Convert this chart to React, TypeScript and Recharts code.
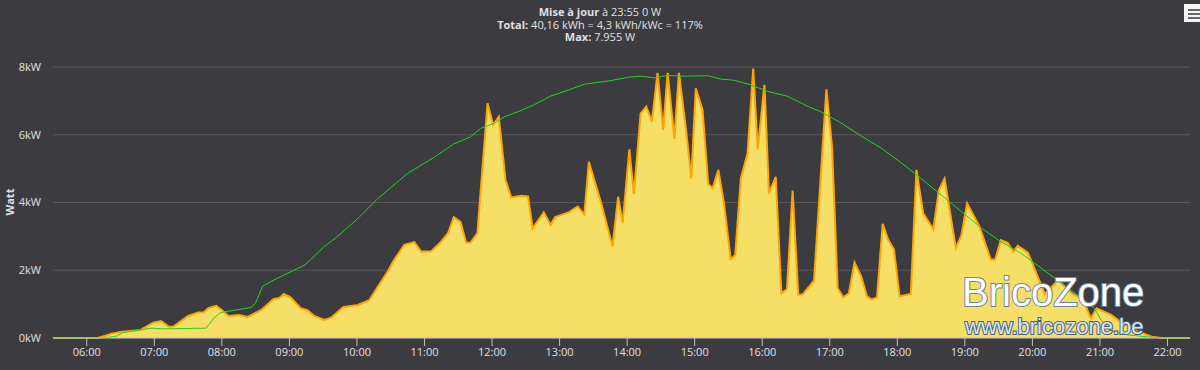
import { ComposedChart, Area, Line, XAxis, YAxis, CartesianGrid } from 'recharts'

// measured production, [time, watt]
const production: [string, number][] = [
  ['05:30', 0], ['06:10', 0], ['06:16', 60], ['06:22', 130], ['06:30', 180], ['06:48', 240], ['06:59', 450],
  ['07:06', 500], ['07:13', 330], ['07:17', 340], ['07:30', 650], ['07:39', 750], ['07:44', 760],
  ['07:48', 880], ['07:55', 950], ['08:01', 800], ['08:06', 650], ['08:15', 680], ['08:23', 620],
  ['08:35', 830], ['08:46', 1150], ['08:51', 1180], ['08:55', 1300], ['09:01', 1200], ['09:10', 880],
  ['09:16', 820], ['09:22', 650], ['09:31', 530], ['09:37', 600], ['09:48', 915], ['10:01', 975],
  ['10:11', 1120], ['10:28', 2000], ['10:33', 2300], ['10:42', 2750], ['10:51', 2830], ['10:57', 2550],
  ['11:06', 2560], ['11:15', 2850], ['11:21', 3100], ['11:26', 3570], ['11:32', 3430], ['11:37', 2810],
  ['11:41', 2820], ['11:47', 3100], ['11:56', 6930], ['12:01', 6290], ['12:06', 6530], ['12:12', 4660],
  ['12:17', 4150], ['12:26', 4200], ['12:32', 4180], ['12:36', 3240], ['12:46', 3710], ['12:52', 3340],
  ['12:56', 3570], ['13:08', 3710], ['13:16', 3880], ['13:22', 3650], ['13:26', 5200], ['13:37', 3980],
  ['13:47', 2700], ['13:52', 4170], ['13:56', 3390], ['14:02', 5570], ['14:06', 4250], ['14:12', 6630],
  ['14:17', 6830], ['14:22', 6390], ['14:27', 7830], ['14:32', 6140], ['14:36', 7830], ['14:42', 5880],
  ['14:46', 7830], ['14:52', 6240], ['14:57', 4710], ['15:01', 7370], ['15:07', 6730], ['15:12', 4550],
  ['15:16', 4420], ['15:21', 4960], ['15:26', 3980], ['15:32', 2320], ['15:36', 2450], ['15:41', 4710],
  ['15:47', 5450], ['15:52', 7955], ['15:56', 5570], ['16:02', 7470], ['16:06', 4270], ['16:12', 4760],
  ['16:17', 1320], ['16:22', 1440], ['16:27', 4350], ['16:32', 1270], ['16:36', 1290], ['16:46', 1690],
  ['16:57', 7340], ['17:02', 5650], ['17:07', 1470], ['17:12', 1200], ['17:17', 1320], ['17:22', 2230],
  ['17:28', 1810], ['17:33', 1230], ['17:37', 1140], ['17:42', 1200], ['17:47', 3370], ['17:52', 2890],
  ['17:57', 2620], ['18:02', 1230], ['18:12', 1300], ['18:17', 4960], ['18:23', 3680], ['18:32', 3210],
  ['18:37', 4370], ['18:42', 4710], ['18:52', 2650], ['18:57', 3040], ['19:02', 3980], ['19:13', 3290],
  ['19:23', 2320], ['19:27', 2320], ['19:32', 2890], ['19:38', 2810], ['19:43', 2550], ['19:47', 2720],
  ['19:56', 2520], ['20:06', 1710], ['20:11', 1300], ['20:23', 1710], ['20:35', 1320], ['20:45', 1120],
  ['20:52', 580], ['20:57', 880], ['21:10', 680], ['21:22', 380], ['21:34', 190], ['21:46', 40],
  ['21:55', 0], ['22:20', 0],
]

// clear-sky reference curve, [time, watt]
const reference: [string, number][] = [
  ['05:30', 0], ['06:15', 0], ['06:27', 60], ['06:32', 160], ['06:48', 240], ['06:57', 290],
  ['07:08', 270], ['07:46', 290], ['07:53', 590], ['07:59', 750], ['08:11', 820], ['08:26', 900],
  ['08:30', 1030], ['08:36', 1520], ['08:46', 1710], ['09:04', 2000], ['09:14', 2160], ['09:31', 2700],
  ['09:41', 2950], ['10:00', 3500], ['10:18', 4100], ['10:45', 4860], ['11:08', 5320], ['11:26', 5730],
  ['11:41', 5940], ['11:50', 6190], ['12:02', 6340], ['12:11', 6530], ['12:23', 6680], ['12:37', 6880],
  ['12:52', 7140], ['13:08', 7320], ['13:22', 7490], ['13:46', 7600], ['14:01', 7700], ['14:12', 7730],
  ['14:24', 7680], ['14:36', 7750], ['14:51', 7730], ['15:12', 7740], ['15:24', 7640], ['15:35', 7610],
  ['15:50', 7470], ['16:05', 7280], ['16:23', 7130], ['16:41', 6830], ['16:52', 6680], ['17:08', 6390],
  ['17:28', 5960], ['17:46', 5600], ['18:04', 5160], ['18:21', 4710], ['18:39', 4220], ['18:57', 3730],
  ['19:15', 3240], ['19:32', 2840], ['19:50', 2500], ['20:08', 2060], ['20:26', 1610], ['20:44', 1170],
  ['20:55', 880], ['21:01', 530], ['21:10', 215], ['21:25', 90], ['21:43', 30], ['21:59', 0], ['22:20', 0],
]

const hourTicks = ['06:00', '07:00', '08:00', '09:00', '10:00', '11:00', '12:00', '13:00', '14:00',
  '15:00', '16:00', '17:00', '18:00', '19:00', '20:00', '21:00', '22:00']
const wattTicks = [0, 2000, 4000, 6000, 8000]

const toMin = (s: string) => {
  const [h, m] = s.split(':').map(Number)
  return h * 60 + m
}
const fmtMin = (v: number) => `${String(Math.floor(v / 60)).padStart(2, '0')}:${String(v % 60).padStart(2, '0')}`

const prodData = production.map(([t, w]) => ({ t: toMin(t), w }))
const refData = reference.map(([t, w]) => ({ t: toMin(t), w }))

const bg = '#3c3b40'
const txt = '#e0e0e3'
const font = '"Open Sans", "DejaVu Sans", sans-serif'

export default function App() {
  return (
    <div style={{ position: 'absolute', left: 0, top: 0, width: 1200, height: 370, background: bg, fontFamily: font, overflow: 'hidden' }}>
      <div style={{ position: 'absolute', top: 6, left: 0, width: 1200, textAlign: 'center', color: txt, fontSize: 11, lineHeight: '12.5px' }}>
        <div><b>Mise à jour</b>&nbsp;à 23:55 0 W</div>
        <div><b>Total:</b>&nbsp;40,16 kWh = 4,3 kWh/kWc = 117%</div>
        <div><b>Max:</b>&nbsp;7.955 W</div>
      </div>
      <div style={{ position: 'absolute', left: 1184, top: 4, width: 20, height: 18, background: '#f4f4f4' }}>
        {[5, 9, 13].map((y) => (
          <div key={y} style={{ position: 'absolute', left: 4, top: y, width: 14, height: 2, background: '#666' }} />
        ))}
      </div>
      <div style={{ position: 'absolute', left: 2, top: 202, transform: 'translate(-50%, -50%) rotate(-90deg)', marginLeft: 7, color: txt, fontSize: 11, fontWeight: 'bold' }}>
        Watt
      </div>
      <ComposedChart width={1200} height={370} margin={{ top: 67, right: 10, bottom: 0, left: 8 }}>
        <CartesianGrid horizontal vertical={false} stroke="#58575d" />
        <XAxis
          type="number"
          dataKey="t"
          domain={[330, 1340]}
          ticks={hourTicks.map(toMin)}
          tickFormatter={fmtMin}
          height={32}
          stroke="#c0c0c0"
          tickSize={8}
          tickMargin={2}
          tick={{ fill: txt, fontSize: 11 }}
          allowDataOverflow
        />
        <YAxis
          type="number"
          domain={[0, 8000]}
          ticks={wattTicks}
          tickFormatter={(v: number) => `${v / 1000}kW`}
          width={45}
          axisLine={false}
          tickLine={false}
          tickSize={0}
          tickMargin={12}
          tick={{ fill: txt, fontSize: 11 }}
        />
        <Area
          data={prodData}
          dataKey="w"
          type="linear"
          stroke="#ffa500"
          strokeWidth={2}
          fill="#f6df66"
          fillOpacity={1}
          isAnimationActive={false}
        />
        <Line
          data={refData}
          dataKey="w"
          type="linear"
          stroke="#1ed51e"
          strokeWidth={1}
          dot={false}
          isAnimationActive={false}
        />
      </ComposedChart>
      <svg style={{ position: 'absolute', left: 0, top: 0 }} width={1200} height={370}>
        <text x={962} y={306} fontFamily="Arial, 'Liberation Sans', sans-serif" fontSize={40} fill="#ffffff" stroke="#6d83a3" strokeWidth={2} paintOrder="stroke">
          BricoZone
        </text>
        <text x={965} y={334} fontFamily="Arial, 'Liberation Sans', sans-serif" fontSize={22} fill="#d6e6fb" stroke="#4a5f80" strokeWidth={2} paintOrder="stroke">
          www.bricozone.be
        </text>
      </svg>
    </div>
  )
}
